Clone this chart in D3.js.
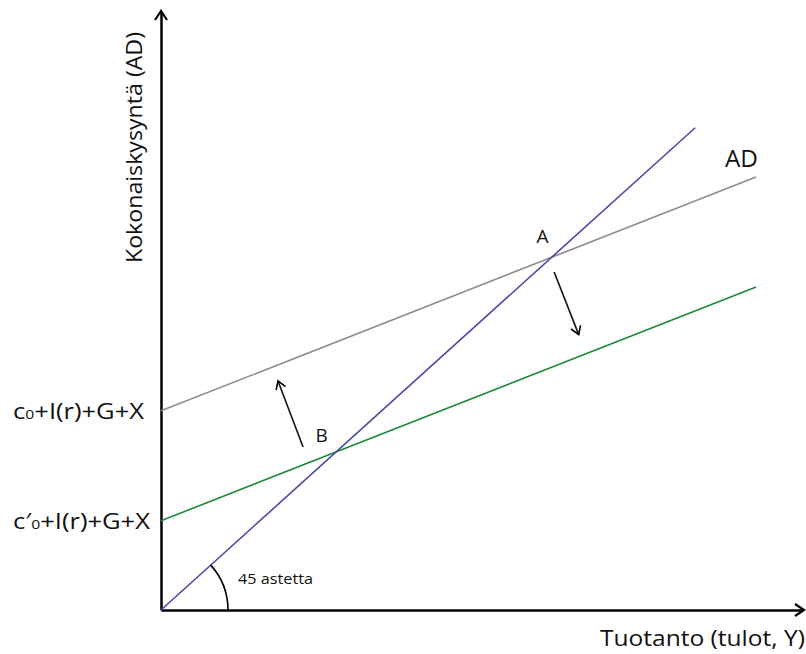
<!DOCTYPE html>
<html>
<head>
<meta charset="utf-8">
<script src="https://cdn.jsdelivr.net/npm/d3@7"></script>
<style>
  body { margin: 0; background: #fff; }
  svg { display: block; font-family: "Open Sans", "Noto Sans", sans-serif; }
</style>
</head>
<body>
<div id="chart"></div>
<script>
// Lines (data units: the 45 degree line is y = x)
const line45 = [[0, 0], [10, 10]];
const lineAD = [[0, 4.13], [11.14, 8.98]];
const lineAD2 = [[0, 1.85], [11.14, 6.70]];

// Shift arrows [tail, tip]
const arrowUp = [[2.66, 3.38], [2.19, 4.75]];
const arrowDown = [[7.36, 7.01], [7.82, 5.71]];

// Point labels
const points = [
  { name: "A", x: 7.31, y: 7.31, dx: -9, dy: -14 },
  { name: "B", x: 3.27, y: 3.27, dx: -14, dy: -10 }
];

// Y tick labels: main part, subscript, rest
const yTicks = [
  { value: 4.13, pre: "c", sub: "0", post: "+I(r)+G+X", len: 131 },
  { value: 1.85, pre: "c\u2032", sub: "0", post: "+I(r)+G+X", len: 137 }
];

const xTitle = "Tuotanto (tulot, Y)";
const yTitle = "Kokonaiskysyntä (AD)";

const W = 806, H = 654;
const x = d3.scaleLinear().domain([0, 12]).range([161, 802]);
const y = d3.scaleLinear().domain([0, 12.4]).range([610, 12]);

const svg = d3.select("#chart").append("svg")
  .attr("width", W).attr("height", H);

// Axes
const yAxis = svg.append("g")
  .attr("transform", "translate(" + x(0) + ",0)")
  .call(d3.axisLeft(y).tickValues(yTicks.map(d => d.value)).tickSize(0).tickSizeOuter(0));
yAxis.attr("font-family", null).attr("font-size", null);
yAxis.select(".domain").attr("stroke", "#000").attr("stroke-width", 2.5);
yAxis.selectAll(".tick text")
  .attr("font-size", 21)
  .attr("fill", "#111")
  .attr("text-anchor", "start")
  .attr("x", 13 - x(0))
  .attr("dy", "0.36em")
  .each(function (v) {
    const t = yTicks.find(d => d.value === v);
    const txt = d3.select(this).text("")
      .attr("textLength", t.len).attr("lengthAdjust", "spacingAndGlyphs");
    txt.append("tspan").text(t.pre);
    txt.append("tspan").attr("font-size", 13).text(t.sub);
    txt.append("tspan").text(t.post);
  });

const xAxis = svg.append("g")
  .attr("transform", "translate(0," + y(0) + ")")
  .call(d3.axisBottom(x).tickValues([]).tickSizeOuter(0));
xAxis.select(".domain").attr("stroke", "#000").attr("stroke-width", 2.5);

// Arrowheads
function chevron(tip, dir, len, half, width) {
  const [tx, ty] = tip;
  const [ux, uy] = dir;
  const px = -uy, py = ux;
  const p = d3.path();
  p.moveTo(tx - ux * len + px * half, ty - uy * len + py * half);
  p.lineTo(tx, ty);
  p.lineTo(tx - ux * len - px * half, ty - uy * len - py * half);
  svg.append("path").attr("d", p.toString())
    .attr("fill", "none").attr("stroke", "#000")
    .attr("stroke-width", width).attr("stroke-linejoin", "miter");
}
chevron([x(0), y(12.4) - 1], [0, -1], 9, 6, 2.2);
chevron([x(12) + 2, y(0)], [1, 0], 9, 6, 2.2);

// Curves
const lineGen = d3.line().x(d => x(d[0])).y(d => y(d[1]));
svg.append("path").datum(lineAD).attr("d", lineGen)
  .attr("fill", "none").attr("stroke", "#8c8c8c").attr("stroke-width", 1.6);
svg.append("path").datum(lineAD2).attr("d", lineGen)
  .attr("fill", "none").attr("stroke", "#1f8a3c").attr("stroke-width", 1.6);
svg.append("path").datum(line45).attr("d", lineGen)
  .attr("fill", "none").attr("stroke", "#4b4aa6").attr("stroke-width", 1.6);

// 45 degree arc
const ang = Math.atan2(y(0) - y(10), x(10) - x(0));
svg.append("path")
  .attr("transform", "translate(" + x(0) + "," + y(0) + ")")
  .attr("d", d3.arc()({ innerRadius: 67, outerRadius: 67, startAngle: Math.PI / 2 - ang, endAngle: Math.PI / 2 }))
  .attr("fill", "none").attr("stroke", "#000").attr("stroke-width", 1.6);
svg.append("text").attr("x", 238).attr("y", 584)
  .attr("font-size", 15).attr("fill", "#111")
  .attr("textLength", 75).attr("lengthAdjust", "spacingAndGlyphs")
  .text("45 astetta");

// Shift arrows
[arrowUp, arrowDown].forEach(a => {
  const x1 = x(a[0][0]), y1 = y(a[0][1]), x2 = x(a[1][0]), y2 = y(a[1][1]);
  svg.append("line").attr("x1", x1).attr("y1", y1).attr("x2", x2).attr("y2", y2)
    .attr("stroke", "#111").attr("stroke-width", 1.6);
  const L = Math.hypot(x2 - x1, y2 - y1);
  chevron([x2, y2], [(x2 - x1) / L, (y2 - y1) / L], 8, 5, 1.6);
});

// Point labels
svg.selectAll(".pt").data(points).enter().append("text")
  .attr("x", d => x(d.x) + d.dx).attr("y", d => y(d.y) + d.dy)
  .attr("text-anchor", "middle").attr("font-size", 19).attr("fill", "#111")
  .text(d => d.name);

svg.append("text").attr("x", 725).attr("y", 167)
  .attr("font-size", 23).attr("fill", "#111")
  .attr("textLength", 33).attr("lengthAdjust", "spacingAndGlyphs").text("AD");

// Axis titles
svg.append("text").attr("x", 600).attr("y", 646)
  .attr("font-size", 21).attr("fill", "#111")
  .attr("textLength", 205).attr("lengthAdjust", "spacingAndGlyphs").text(xTitle);
svg.append("text")
  .attr("transform", "translate(142,263) rotate(-90)")
  .attr("font-size", 22).attr("fill", "#111")
  .attr("textLength", 231).attr("lengthAdjust", "spacingAndGlyphs").text(yTitle);
</script>
</body>
</html>
